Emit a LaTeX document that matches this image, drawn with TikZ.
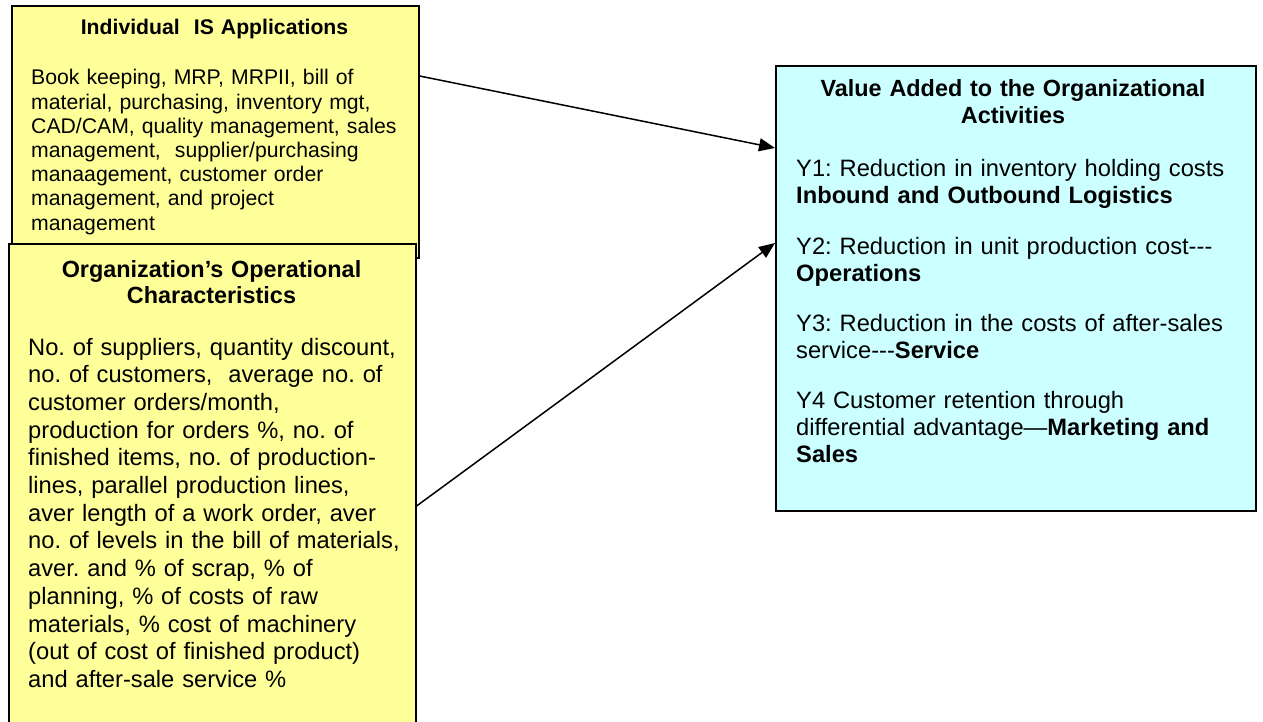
\documentclass[tikz,border=0pt]{standalone}
\usepackage{fontspec}
\setmainfont{Liberation Sans}
\usetikzlibrary{arrows.meta,calc}
\definecolor{boxyellow}{HTML}{FFFF99}
\definecolor{boxcyan}{HTML}{CCFFFF}
\begin{document}
\frenchspacing
\begin{tikzpicture}[x=1pt,y=-1pt,
  panel/.style={draw=black,line width=1.6pt,inner sep=0pt,anchor=north west},
  ttl/.style={anchor=base,align=center,inner sep=0pt,text width=#1},
  bodytxt/.style={anchor=base west,inner sep=0pt,text width=#1,align=left},
  smallf/.style={font=\fontsize{21.2}{24.2}\selectfont\frenchspacing},
  smallb/.style={font=\fontsize{21.2}{24.2}\selectfont\bfseries\frenchspacing},
  bigf/.style={font=\fontsize{23.7}{#1}\selectfont\frenchspacing},
  bigb/.style={font=\fontsize{23.4}{#1}\selectfont\bfseries\frenchspacing},
  conn/.style={line width=1.5pt,-{Triangle[length=16pt,width=13pt]}}]
\useasboundingbox (0,0) rectangle (1263,722);
% boxes
\node[panel,fill=boxyellow,minimum width=407pt,minimum height=252pt] (b1) at (11,5) {};
\node[panel,fill=boxyellow,minimum width=407pt,minimum height=500pt] (b2) at (8,243) {};
\node[panel,fill=boxcyan,minimum width=480pt,minimum height=445pt] (b3) at (775,65) {};
% box 1 text
\node[ttl=380pt,smallb] (t1) at (214.5,35) {Individual\ \ IS Applications};
\node[bodytxt=380pt,smallf] (x1) at (31,85) {Book keeping, MRP, MRPII, bill of\\material, purchasing, inventory mgt,\\CAD/CAM, quality management, sales\\management,\ \ supplier/purchasing\\manaagement, customer order\\management, and project\\management};
% box 2 text
\node[ttl=390pt,bigb=26.5] (t2) at (211.5,277) {Organization’s Operational\\Characteristics};
\node[bodytxt=385pt,bigf=27.7] (x2) at (28,355) {No. of suppliers, quantity discount,\\no. of customers,\ \ average no. of\\customer orders/month,\\production for orders \%, no. of\\finished items, no. of production-\\lines, parallel production lines,\\aver length of a work order, aver\\no. of levels in the bill of materials,\\aver. and \% of scrap, \% of\\planning, \% of costs of raw\\materials, \% cost of machinery\\(out of cost of finished product)\\and after-sale service \%};
% box 3 text
\node[ttl=440pt,bigb=27] (t3) at (1013,97) {Value Added to the Organizational\\Activities};
\node[bodytxt=450pt,bigf=27] (x3) at (796,177) {Y1: Reduction in inventory holding costs\\\textbf{Inbound and Outbound Logistics}\\[24pt]Y2: Reduction in unit production cost-{}-{}-\\\textbf{Operations}\\[23pt]Y3: Reduction in the costs of after-sales\\service-{}-{}-\textbf{Service}\\[23pt]Y4 Customer retention through\\differential advantage—\textbf{Marketing and}\\\textbf{Sales}};
% connectors
\draw[conn] ($(b1.north east)+(0,71)$) -- ($(b3.north west)+(0,83)$);
\draw[conn] ($(b2.north east)+(0,263)$) -- ($(b3.north west)+(0,178)$);
\end{tikzpicture}
\end{document}
